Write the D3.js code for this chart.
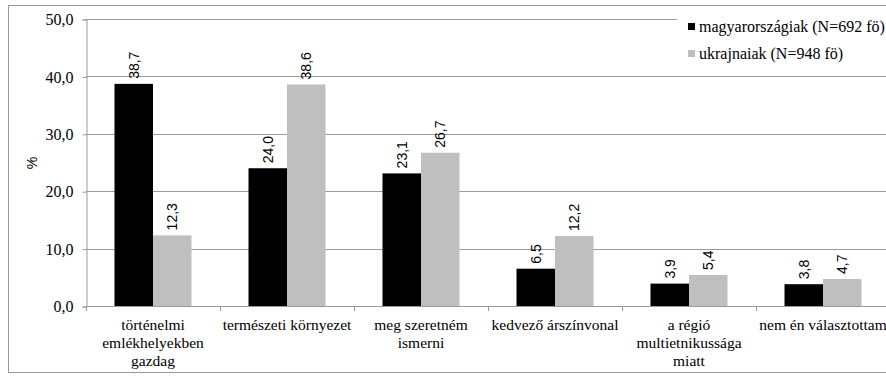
<!DOCTYPE html>
<html>
<head>
<meta charset="utf-8">
<script src="https://cdn.jsdelivr.net/npm/d3@7"></script>
<style>
  html, body { margin: 0; padding: 0; background: #fff; }
  svg { display: block; }
</style>
</head>
<body>
<svg id="chart" width="886" height="376"></svg>
<script>
// Categories (line breaks mark where each label wraps)
const categories = [
  "történelmi\nemlékhelyekben\ngazdag",
  "természeti környezet",
  "meg szeretném\nismerni",
  "kedvező árszínvonal",
  "a régió\nmultietnikussága\nmiatt",
  "nem én választottam"
];
const seriesNames = ["magyarországiak (N=692 fö)", "ukrajnaiak (N=948 fö)"];
const hungarianValues = [38.7, 24.0, 23.1, 6.5, 3.9, 3.8];
const ukrainianValues = [12.3, 38.6, 26.7, 12.2, 5.4, 4.7];
const seriesColors = ["#000000", "#bfbfbf"];
const yTicks = [0, 10, 20, 30, 40, 50];
const yTitle = "%";

const svg = d3.select("#chart");
const plot = { left: 86, right: 890, top: 19, bottom: 306 };
const gridColor = "#9a9a9a";
const SERIF = '"Liberation Serif"';
const SANS = '"Liberation Sans"';

// Outer frame
svg.append("rect")
  .attr("x", 8.5).attr("y", 5.5)
  .attr("width", 900).attr("height", 367)
  .attr("fill", "none").attr("stroke", gridColor).attr("stroke-width", 1);

const x = d3.scaleBand().domain(d3.range(categories.length))
  .range([plot.left, plot.right]).paddingInner(0).paddingOuter(0);
const x1 = d3.scaleBand().domain(d3.range(seriesNames.length))
  .range([0, x.bandwidth()]).paddingInner(0).paddingOuter(0.74);
const y = d3.scaleLinear().domain([0, 50]).range([plot.bottom, plot.top]);

const fmt = v => d3.format(".1f")(v).replace(".", ",");

// Horizontal gridlines
svg.append("g").selectAll("line")
  .data(yTicks.filter(t => t > 0))
  .join("line")
  .attr("x1", plot.left).attr("x2", plot.right)
  .attr("y1", d => Math.round(y(d)) + 0.5).attr("y2", d => Math.round(y(d)) + 0.5)
  .attr("stroke", gridColor).attr("stroke-width", 1);

// Y axis
const yAxis = svg.append("g")
  .attr("transform", `translate(${plot.left + 0.5},0.5)`)
  .call(d3.axisLeft(y).tickValues(yTicks).tickFormat(fmt).tickSize(4).tickPadding(9));
yAxis.select(".domain").attr("stroke", gridColor);
yAxis.selectAll(".tick line").attr("stroke", gridColor);
yAxis.selectAll(".tick text")
  .style("font-family", SERIF)
  .style("font-size", "16px").attr("fill", "#000");

// Y title
svg.append("text")
  .attr("transform", "translate(37,163) rotate(-90)")
  .attr("text-anchor", "middle")
  .style("font-family", SANS)
  .style("font-size", "14px").attr("fill", "#000")
  .text(yTitle);

// Bars
const rows = categories.map((c, i) => [hungarianValues[i], ukrainianValues[i]]);
const groups = svg.append("g").selectAll("g")
  .data(rows)
  .join("g")
  .attr("transform", (d, i) => `translate(${x(i)},0)`);

groups.selectAll("rect")
  .data(d => d.map((v, s) => ({ v, s })))
  .join("rect")
  .attr("x", d => x1(d.s))
  .attr("y", d => y(d.v))
  .attr("width", x1.bandwidth())
  .attr("height", d => y(0) - y(d.v))
  .attr("fill", d => seriesColors[d.s]);

// Value labels (vertical, above bars)
groups.selectAll("text")
  .data(d => d.map((v, s) => ({ v, s })))
  .join("text")
  .attr("transform", d => `translate(${x1(d.s) + x1.bandwidth() / 2},${y(d.v) - 5}) rotate(-90)`)
  .attr("dy", "0.35em")
  .attr("text-anchor", "start")
  .style("font-family", SANS)
  .style("font-size", "14px").attr("fill", "#000")
  .text(d => fmt(d.v));

// X axis
const xAxisG = svg.append("g");
xAxisG.append("line")
  .attr("x1", plot.left).attr("x2", plot.right)
  .attr("y1", plot.bottom + 0.5).attr("y2", plot.bottom + 0.5)
  .attr("stroke", gridColor);
xAxisG.selectAll("line.tick")
  .data(d3.range(categories.length + 1))
  .join("line")
  .attr("class", "tick")
  .attr("x1", i => Math.round(plot.left + i * x.step()) + 0.5)
  .attr("x2", i => Math.round(plot.left + i * x.step()) + 0.5)
  .attr("y1", plot.bottom).attr("y2", plot.bottom + 5)
  .attr("stroke", gridColor);

// Category labels
xAxisG.selectAll("text.cat")
  .data(categories)
  .join("text")
  .attr("class", "cat")
  .attr("text-anchor", "middle")
  .style("font-family", SERIF)
  .style("font-size", "15.5px").attr("fill", "#000")
  .each(function (d, i) {
    const t = d3.select(this);
    d.split("\n").forEach((line, k) => {
      t.append("tspan")
        .attr("x", x(i) + x.bandwidth() / 2)
        .attr("y", 330 + k * 18)
        .text(line);
    });
  });

// Legend
const legend = svg.append("g");
legend.append("rect")
  .attr("x", 677).attr("y", 10).attr("width", 220).attr("height", 60)
  .attr("fill", "#fff");
seriesNames.forEach((name, s) => {
  const cy = 27 + s * 27;
  legend.append("rect")
    .attr("x", 688).attr("y", cy - 4).attr("width", 7).attr("height", 7)
    .attr("fill", seriesColors[s]);
  legend.append("text")
    .attr("x", 699).attr("y", cy).attr("dy", "0.32em")
    .style("font-family", SERIF)
    .style("font-size", "16px").attr("fill", "#000")
    .text(name);
});
</script>
</body>
</html>
